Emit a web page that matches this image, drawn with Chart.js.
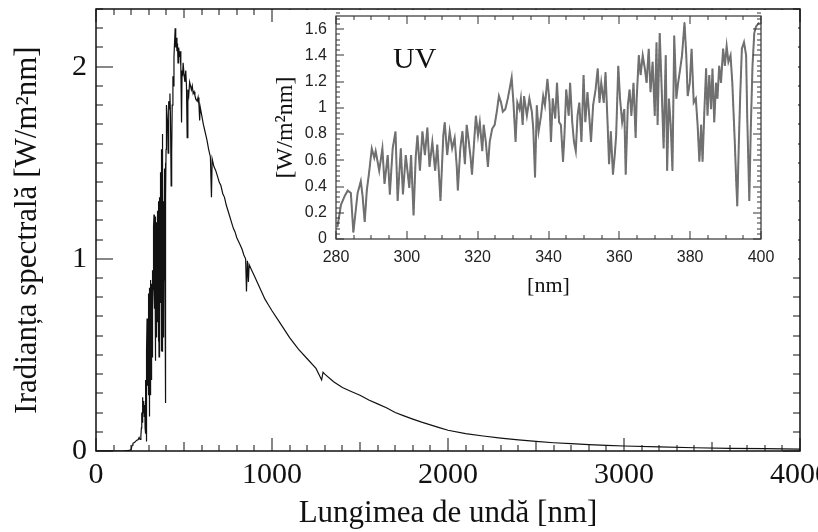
<!DOCTYPE html>
<html><head><meta charset="utf-8">
<script src="https://cdn.jsdelivr.net/npm/chart.js@4.4.1/dist/chart.umd.min.js"></script>
<style>
html,body{margin:0;padding:0;background:#fff;}
#wrap{position:relative;width:818px;height:532px;overflow:hidden;}
#main{position:absolute;left:0;top:0;}
#inset{position:absolute;left:270px;top:0;}
</style></head><body>
<div id="wrap"><canvas id="main" width="818" height="532"></canvas><canvas id="inset" width="540" height="310"></canvas></div>
<script>
// ---- main spectrum, below 280 nm ----
const mainNmLow  = [0, 150, 190, 200, 205, 210, 220, 230, 240, 245, 250, 255, 258, 260, 262, 265, 268, 271, 274, 277, 279];
const mainValLow = [0, 0, 0.003, 0.008, 0.03, 0.04, 0.045, 0.055, 0.06, 0.07, 0.06, 0.08, 0.12, 0.2, 0.15, 0.28, 0.2, 0.26, 0.18, 0.24, 0.12];
// ---- UV part 280-400 nm (inset; also part of main curve) ----
const uvNm = [280.4,281.4,282.5,283.3,284.2,284.9,285.5,286.1,287.0,287.5,288.1,288.7,289.4,290.1,290.8,291.2,292.2,293.1,293.7,294.6,295.2,296.0,296.8,297.4,298.3,298.9,299.7,300.7,301.2,301.9,302.5,303.0,303.7,304.4,305.1,305.8,306.4,307.2,308.0,308.6,309.5,310.3,310.7,311.4,312.1,312.8,313.5,314.1,314.4,315.1,315.7,316.4,316.9,317.5,318.0,318.4,319.0,319.5,320.1,320.6,321.3,321.7,322.3,322.9,323.4,324.1,324.8,325.4,326.0,326.6,327.1,327.8,328.5,329.2,329.6,330.1,330.7,331.2,331.8,332.2,332.7,333.1,333.9,334.6,335.3,335.7,336.2,336.7,337.2,337.9,338.5,339.0,339.7,340.3,340.7,341.2,341.9,342.4,343.0,343.5,344.1,344.5,345.0,345.7,346.1,346.7,347.2,347.7,348.2,348.7,349.3,349.9,350.4,351.0,351.5,352.0,352.6,353.3,353.9,354.4,354.9,355.6,356.1,356.7,357.1,357.6,358.2,358.7,359.1,359.7,360.2,360.8,361.4,361.8,362.4,362.9,363.4,364.0,364.6,364.9,365.5,366.0,366.6,367.2,367.7,368.3,368.8,369.4,370.0,370.5,370.8,371.4,371.9,372.5,373.1,373.5,374.0,374.5,375.0,375.5,376.1,376.6,377.2,377.7,378.4,378.9,379.3,379.9,380.4,381.0,381.6,382.1,382.6,383.1,383.5,384.0,384.5,384.9,385.4,385.9,386.3,386.8,387.3,387.7,388.2,388.7,389.3,389.8,390.3,390.8,391.4,391.9,392.6,393.0,393.3,393.7,394.1,394.6,395.2,395.8,396.1,396.7,397.1,397.6,398.1,398.6,399.5];
const uvVal = [0.09,0.26,0.33,0.37,0.35,0.05,0.20,0.35,0.44,0.33,0.13,0.37,0.52,0.69,0.62,0.67,0.52,0.69,0.42,0.64,0.34,0.69,0.82,0.29,0.69,0.34,0.64,0.39,0.64,0.18,0.62,0.79,0.52,0.82,0.64,0.85,0.55,0.74,0.52,0.72,0.29,0.79,0.89,0.64,0.82,0.69,0.77,0.55,0.37,0.69,0.82,0.57,0.87,0.74,0.62,0.49,0.74,0.94,0.79,0.89,0.67,0.87,0.74,0.55,0.74,0.84,0.87,0.97,1.09,1.04,0.97,0.99,1.07,1.17,1.23,1.04,0.74,1.04,0.99,1.07,0.87,1.09,0.94,1.07,0.97,0.84,0.47,1.02,0.82,0.94,1.09,1.02,1.22,1.04,0.74,1.07,0.92,1.19,0.89,0.87,0.59,0.79,1.14,0.94,1.19,0.89,0.74,0.67,0.94,1.04,0.74,1.25,0.89,1.12,0.94,0.74,1.02,1.14,1.30,1.04,1.19,1.04,1.27,0.87,0.57,0.82,0.49,0.64,0.79,1.32,1.07,0.89,0.99,0.49,1.02,1.14,0.94,1.19,0.77,1.07,1.40,1.25,1.40,1.30,1.19,1.45,1.12,1.35,0.94,1.50,0.87,1.57,1.19,0.69,1.40,0.52,1.07,0.87,0.52,1.55,1.07,1.19,1.30,1.40,1.65,1.40,1.09,1.19,1.45,1.04,1.07,0.87,0.59,0.87,0.59,0.97,1.30,0.94,1.25,0.99,1.30,0.89,1.19,1.07,1.32,1.19,1.45,1.32,1.47,1.35,1.40,1.19,0.74,0.44,0.25,0.69,1.07,1.45,1.50,1.40,0.94,0.29,0.82,1.32,1.57,1.62,1.65];
// ---- main spectrum, above 400 nm ----
const mainNmHigh  = [400,403,406,410,413,417,420,423,427,430,433,437,440,443,446,450,453,456,460,463,466,470,474,478,482,486,489,492,495,500,505,510,514,518,522,527,532,537,542,547,552,557,562,568,575,580,585,589,592,600,610,620,630,640,650,656,660,670,680,690,700,710,720,730,740,750,760,770,780,790,800,810,820,830,840,850,855,860,866,870,880,900,920,940,960,980,1000,1050,1100,1150,1200,1250,1282,1290,1300,1350,1400,1450,1500,1550,1600,1650,1700,1750,1800,1850,1900,1950,2000,2100,2200,2300,2400,2500,2600,2700,2800,2900,3000,3200,3400,3600,3800,4000];
const mainValHigh = [1.65,1.80,1.72,1.55,1.82,1.78,1.86,1.75,1.38,1.55,1.80,1.95,1.90,2.05,2.12,2.20,2.10,2.15,2.08,2.12,2.02,2.10,2.05,2.08,2.00,1.71,1.98,1.95,2.02,1.96,1.92,1.98,1.90,1.63,1.88,1.85,1.92,1.90,1.88,1.90,1.86,1.87,1.85,1.83,1.82,1.84,1.80,1.72,1.79,1.75,1.70,1.66,1.62,1.57,1.53,1.32,1.52,1.48,1.46,1.43,1.40,1.38,1.34,1.32,1.28,1.25,1.22,1.19,1.16,1.14,1.11,1.09,1.07,1.05,1.02,1.00,0.83,0.99,0.88,0.97,0.95,0.91,0.87,0.83,0.79,0.76,0.73,0.66,0.59,0.53,0.48,0.43,0.37,0.41,0.40,0.36,0.33,0.31,0.29,0.265,0.245,0.225,0.20,0.183,0.166,0.15,0.136,0.122,0.108,0.090,0.078,0.067,0.058,0.050,0.043,0.038,0.033,0.029,0.026,0.021,0.017,0.014,0.012,0.010];
// ---- tick labels ----
const mainXTicks = [0, 1000, 2000, 3000, 4000];
const mainYTicks = [0, 1, 2];
const uvXTicks = [280, 300, 320, 340, 360, 380, 400];
const uvYTicks = [0, 0.2, 0.4, 0.6, 0.8, 1, 1.2, 1.4, 1.6];
const mainXTitle = 'Lungimea de undă [nm]';
const mainYTitle = 'Iradianța spectrală [W/m²nm]';
const uvXTitle = '[nm]';
const uvYTitle = '[W/m²nm]';
const uvLabel = 'UV';

const SERIF = "'Liberation Serif', 'Times New Roman', serif";
const SANS = "'Liberation Sans', Arial, sans-serif";

const mainData = [];
mainNmLow.forEach((x, i) => mainData.push({x, y: mainValLow[i]}));
uvNm.forEach((x, i) => mainData.push({x, y: uvVal[i]}));
mainNmHigh.forEach((x, i) => mainData.push({x, y: mainValHigh[i]}));
const uvData = uvNm.map((x, i) => ({x, y: uvVal[i]}));

function isMult(v, step) {
  if (!step) return false;
  const q = v / step;
  return Math.abs(q - Math.round(q)) < 1e-6;
}

function tickPlugin(cfg) {
  return {
    id: 'inwardTicks',
    afterDatasetsDraw(chart) {
      const ctx = chart.ctx;
      const a = chart.chartArea;
      const xs = chart.scales.x, ys = chart.scales.y;
      ctx.save();
      ctx.fillStyle = cfg.color;
      const nx = Math.round((cfg.xMax - cfg.xMin) / cfg.xMinor);
      for (let i = 0; i <= nx; i++) {
        const v = cfg.xMin + i * cfg.xMinor;
        let len = cfg.xLen[0];
        if (isMult(v, cfg.xMajor)) len = cfg.xLen[2];
        else if (isMult(v, cfg.xMid)) len = cfg.xLen[1];
        const p = Math.round(xs.getPixelForValue(v));
        ctx.fillRect(p - 0.5, a.bottom - len, cfg.tickWidth, len);
        ctx.fillRect(p - 0.5, a.top, cfg.tickWidth, len);
      }
      const ny = Math.round((cfg.yMax - cfg.yMin) / cfg.yMinor);
      for (let i = 0; i <= ny; i++) {
        const v = cfg.yMin + i * cfg.yMinor;
        const len = isMult(v, cfg.yMajor) ? cfg.yLen[1] : cfg.yLen[0];
        const p = Math.round(ys.getPixelForValue(v));
        ctx.fillRect(a.left, p - 0.5, len, cfg.tickWidth);
        ctx.fillRect(a.right - len, p - 0.5, len, cfg.tickWidth);
      }
      ctx.strokeStyle = cfg.color;
      ctx.lineWidth = cfg.frameWidth;
      ctx.strokeRect(a.left, a.top, a.right - a.left, a.bottom - a.top);
      ctx.restore();
    },
    afterDraw(chart) {
      if (cfg.after) cfg.after(chart);
    }
  };
}

new Chart(document.getElementById('main'), {
  type: 'line',
  data: {datasets: [{data: mainData, borderColor: '#111', borderWidth: 1.2, pointRadius: 0, tension: 0, fill: false}]},
  options: {
    responsive: false, animation: false, devicePixelRatio: 1,
    layout: {padding: {left: 0, right: 18, top: 9, bottom: 0}},
    plugins: {legend: {display: false}, tooltip: {enabled: false}},
    scales: {
      x: {
        type: 'linear', min: 0, max: 4000,
        afterBuildTicks: s => { s.ticks = mainXTicks.map(v => ({value: v})); },
        afterFit: s => { s.height = 81; s.paddingLeft = 0; s.paddingRight = 0; },
        grid: {display: false, drawTicks: false}, border: {display: false},
        ticks: {font: {family: SERIF, size: 30}, color: '#111', padding: 6, maxRotation: 0, autoSkip: false, callback: v => String(v)},
        title: {display: true, text: mainXTitle, font: {family: SERIF, size: 31}, color: '#111', padding: {top: 0, bottom: 0}}
      },
      y: {
        type: 'linear', min: 0, max: 2.3,
        afterBuildTicks: s => { s.ticks = mainYTicks.map(v => ({value: v})); },
        afterFit: s => { s.width = 96; s.paddingTop = 0; s.paddingBottom = 0; },
        grid: {display: false, drawTicks: false}, border: {display: false},
        ticks: {font: {family: SERIF, size: 30}, color: '#111', padding: 9, callback: v => String(v)},
        title: {display: true, text: mainYTitle, font: {family: SERIF, size: 31}, color: '#111', padding: {top: 9, bottom: 0}}
      }
    }
  },
  plugins: [tickPlugin({
    color: '#111', tickWidth: 1, frameWidth: 1.5,
    xMin: 0, xMax: 4000, xMinor: 100, xMid: 500, xMajor: 1000, xLen: [6, 9, 13],
    yMin: 0, yMax: 2.3, yMinor: 0.1, yMajor: 1, yLen: [7, 17],
    after(chart) {
      const ctx = chart.ctx;
      ctx.save(); ctx.fillStyle = '#fff';
      ctx.fillRect(276, 10, 522, 251);
      ctx.restore();
    }
  })]
});

new Chart(document.getElementById('inset'), {
  type: 'line',
  data: {datasets: [
    {data: uvData, borderColor: '#707070', borderWidth: 2, pointRadius: 0, tension: 0, fill: false},
    {data: uvData, borderColor: '#3a3a3a', borderWidth: 1, borderDash: [2, 3], pointRadius: 0, tension: 0, fill: false}
  ]},
  options: {
    responsive: false, animation: false, devicePixelRatio: 1,
    layout: {padding: {left: 0, right: 49, top: 16, bottom: 0}},
    plugins: {legend: {display: false}, tooltip: {enabled: false}},
    scales: {
      x: {
        type: 'linear', min: 280, max: 400,
        afterBuildTicks: s => { s.ticks = uvXTicks.map(v => ({value: v})); },
        afterFit: s => { s.height = 71; s.paddingLeft = 0; s.paddingRight = 0; },
        grid: {display: false, drawTicks: false}, border: {display: false},
        ticks: {font: {family: SANS, size: 16}, color: '#222', padding: 9, maxRotation: 0, autoSkip: false, callback: v => String(v)},
        title: {display: true, text: uvXTitle, font: {family: SERIF, size: 22}, color: '#111', padding: {top: 0, bottom: 11}}
      },
      y: {
        type: 'linear', min: 0, max: 1.7,
        afterBuildTicks: s => { s.ticks = uvYTicks.map(v => ({value: v})); },
        afterFit: s => { s.width = 66; s.paddingTop = 0; s.paddingBottom = 0; },
        grid: {display: false, drawTicks: false}, border: {display: false},
        ticks: {font: {family: SANS, size: 16}, color: '#222', padding: 9, callback: v => String(v)},
        title: {display: true, text: uvYTitle, font: {family: SERIF, size: 24}, color: '#111', padding: {top: 1, bottom: 0}}
      }
    }
  },
  plugins: [tickPlugin({
    color: '#333', tickWidth: 1, frameWidth: 1.2,
    xMin: 280, xMax: 400, xMinor: 5, xMid: 0, xMajor: 20, xLen: [4, 4, 8],
    yMin: 0, yMax: 1.7, yMinor: 0.04, yMajor: 0.2, yLen: [4, 8],
    after(chart) {
      const ctx = chart.ctx;
      const xs = chart.scales.x, ys = chart.scales.y;
      ctx.save();
      ctx.fillStyle = '#111';
      ctx.font = '30px ' + SERIF;
      ctx.textAlign = 'center'; ctx.textBaseline = 'middle';
      ctx.fillText(uvLabel, xs.getPixelForValue(302.2), ys.getPixelForValue(1.36));
      ctx.restore();
    }
  })]
});
</script>
</body></html>
